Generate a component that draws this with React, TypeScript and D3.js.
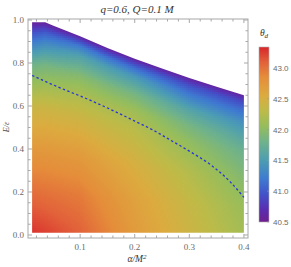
import React from "react";
import * as d3 from "d3";

const W = 291;
const H = 267;

// axes ticks
const xMajor = [0.1, 0.2, 0.3, 0.4];
const xMinor = [0.02, 0.04, 0.06, 0.08, 0.12, 0.14, 0.16, 0.18, 0.22, 0.24, 0.26, 0.28, 0.32, 0.34, 0.36, 0.38];
const yMajor = [0, 0.2, 0.4, 0.6, 0.8, 1.0];
const yMinor = [0.05, 0.1, 0.15, 0.25, 0.3, 0.35, 0.45, 0.5, 0.55, 0.65, 0.7, 0.75, 0.85, 0.9, 0.95];
const cbTicks = [40.5, 41.0, 41.5, 42.0, 42.5, 43.0];

// upper boundary of the allowed region
const boundaryAlpha = [0.012, 0.036, 0.05, 0.1, 0.15, 0.2, 0.25, 0.3, 0.35, 0.4];
const boundaryY = [0.99, 0.99, 0.975, 0.925, 0.87, 0.82, 0.775, 0.73, 0.69, 0.65];
const yBottom = 0.01;

// theta_d grid: columns at alpha, rows at fraction t = y / ymax(alpha)
const gridAlpha = [0.012, 0.1, 0.2, 0.3, 0.4];
const gridT = [0, 0.2, 0.4, 0.6, 0.7, 0.8, 0.9, 0.95, 1.0];
const thetaA1 = [43.3, 43.02, 42.74, 42.4, 42.1, 41.8, 41.25, 40.95, 40.55];
const thetaA2 = [43.1, 42.95, 42.72, 42.4, 42.2, 41.95, 41.55, 41.2, 40.6];
const thetaA3 = [42.72, 42.65, 42.5, 42.28, 42.12, 41.85, 41.45, 41.1, 40.6];
const thetaA4 = [42.42, 42.36, 42.24, 42.02, 41.85, 41.58, 41.18, 40.95, 40.6];
const thetaA5 = [42.15, 42.08, 41.95, 41.77, 41.6, 41.4, 41.1, 40.9, 40.6];

// dashed curve
const dashAlpha = [0.012, 0.06, 0.11, 0.155, 0.2, 0.235, 0.265, 0.3, 0.34, 0.375, 0.4];
const dashY = [0.742, 0.688, 0.636, 0.585, 0.53, 0.486, 0.442, 0.39, 0.325, 0.247, 0.175];

// colour map (Rainbow-like)
const cmapValues = [40.5, 40.7, 40.95, 41.2, 41.5, 41.8, 42.05, 42.3, 42.55, 42.85, 43.1, 43.34];
const cmapColors = ["#6e1f8e", "#5a2db0", "#4252c8", "#3e7ad0", "#4c9db2", "#6fb28a", "#95bd5c", "#bdbb48", "#dcab3f", "#e58d3a", "#e2603a", "#d8262a"];

const FONT = "'Liberation Serif', 'DejaVu Serif', serif";

export default function App() {
  const x = d3.scaleLinear().domain([0.0045, 0.4075]).range([28, 248]);
  const y = d3.scaleLinear().domain([-0.014, 1.0047]).range([238, 19]);
  const color = d3.scaleLinear<string>().domain(cmapValues).range(cmapColors).interpolate(d3.interpolateRgb).clamp(true);
  const ymax = d3.scaleLinear().domain(boundaryAlpha).range(boundaryY).clamp(true);
  const cols = [thetaA1, thetaA2, thetaA3, thetaA4, thetaA5];
  const colScales = cols.map((c) => d3.scaleLinear().domain(gridT).range(c).clamp(true));

  const theta = (a: number, yy: number) => {
    const t = Math.max(0, Math.min(1, yy / ymax(a)));
    const vals = colScales.map((s) => s(t));
    return d3.scaleLinear().domain(gridAlpha).range(vals).clamp(true)(a);
  };

  // cells
  const step = 2;
  const x0 = Math.floor(x(0.012));
  const x1 = x(0.4);
  const yTopPx = Math.floor(y(0.99));
  const yBotPx = y(yBottom);
  const cells: JSX.Element[] = [];
  for (let px = x0; px < x1; px += step) {
    for (let py = yTopPx; py < yBotPx; py += step) {
      const a = x.invert(px + step / 2);
      const yy = y.invert(py + step / 2);
      if (yy > ymax(a) + 0.02) continue;
      cells.push(
        <rect key={px + "_" + py} x={px} y={py} width={step} height={step} fill={color(theta(a, yy))} />
      );
    }
  }

  // clip region
  const area = d3
    .area<number>()
    .x((d, i) => x(boundaryAlpha[i]))
    .y0(() => y(yBottom))
    .y1((d) => y(d));
  const clipD = area(boundaryY) || "";

  const dashLine = d3
    .line<number>()
    .x((d, i) => x(dashAlpha[i]))
    .y((d) => y(d))
    .curve(d3.curveMonotoneX);

  // colour bar
  const cbX = 259;
  const cbW = 10;
  const cbS = d3.scaleLinear().domain([40.5, 43.34]).range([222, 47]);
  const gradStops = cmapValues.map((v) => ({ off: (v - 40.5) / (43.34 - 40.5), c: color(v) }));

  const frameColor = "#a8a8a8";
  const tickText = "#6a6a6a";

  return (
    <svg width={W} height={H} style={{ position: "absolute", left: 0, top: 0, background: "#fff" }}>
      <defs>
        <clipPath id="region">
          <path d={clipD} />
        </clipPath>
        <linearGradient id="cbgrad" x1="0" y1="1" x2="0" y2="0">
          {gradStops.map((s, i) => (
            <stop key={i} offset={Math.max(0, Math.min(1, s.off))} stopColor={s.c} />
          ))}
        </linearGradient>
      </defs>

      <g clipPath="url(#region)" shapeRendering="crispEdges">{cells}</g>

      <path d={dashLine(dashY) || ""} fill="none" stroke="#2a35d8" strokeWidth={1.3} strokeDasharray="2.4,2.4" />

      {/* frame */}
      <rect x={28} y={19} width={220} height={219} fill="none" stroke={frameColor} strokeWidth={1} />

      {/* x ticks */}
      {xMajor.map((v) => (
        <g key={"xm" + v}>
          <line x1={x(v)} x2={x(v)} y1={238} y2={234} stroke={frameColor} />
          <line x1={x(v)} x2={x(v)} y1={19} y2={23} stroke={frameColor} />
          <text x={x(v)} y={250} fontSize={9} fill={tickText} textAnchor="middle" fontFamily={FONT}>
            {v.toFixed(1)}
          </text>
        </g>
      ))}
      {xMinor.map((v) => (
        <g key={"xn" + v}>
          <line x1={x(v)} x2={x(v)} y1={238} y2={235.5} stroke={frameColor} />
          <line x1={x(v)} x2={x(v)} y1={19} y2={21.5} stroke={frameColor} />
        </g>
      ))}
      {/* y ticks */}
      {yMajor.map((v) => (
        <g key={"ym" + v}>
          <line x1={28} x2={32} y1={y(v)} y2={y(v)} stroke={frameColor} />
          <line x1={248} x2={244} y1={y(v)} y2={y(v)} stroke={frameColor} />
          <text x={24} y={y(v) + 3} fontSize={9} fill={tickText} textAnchor="end" fontFamily={FONT}>
            {v.toFixed(1)}
          </text>
        </g>
      ))}
      {yMinor.map((v) => (
        <g key={"yn" + v}>
          <line x1={28} x2={30.5} y1={y(v)} y2={y(v)} stroke={frameColor} />
          <line x1={248} x2={245.5} y1={y(v)} y2={y(v)} stroke={frameColor} />
        </g>
      ))}

      {/* labels */}
      <text x={137} y={13} fontSize={11} fill="#333" textAnchor="middle" fontFamily={FONT} fontStyle="italic">
        q=0.6, Q=0.1 M
      </text>
      <text x={137} y={262} fontSize={9.5} fill="#333" textAnchor="middle" fontFamily={FONT} fontStyle="italic">
        α/M<tspan fontSize={7} dy={-3.5}>2</tspan>
      </text>
      <text x={0} y={0} fontSize={8} fill="#444" textAnchor="middle" fontFamily={FONT} fontStyle="italic" transform="translate(9,127) rotate(-90)">
        E/ε
      </text>

      {/* colour bar */}
      <text x={264} y={36} fontSize={9.5} fill="#333" textAnchor="middle" fontFamily={FONT} fontStyle="italic">
        θ<tspan fontSize={7} dy={2}>d</tspan>
      </text>
      <rect x={cbX} y={47} width={cbW} height={175} fill="url(#cbgrad)" stroke="#b0b0b0" strokeWidth={0.6} />
      {cbTicks.map((v) => (
        <g key={"cb" + v}>
          <line x1={cbX + cbW} x2={cbX + cbW - 2} y1={cbS(v)} y2={cbS(v)} stroke="#999" strokeWidth={0.6} />
          <text x={273} y={cbS(v) + 3} fontSize={8} fill={tickText} fontFamily="'Liberation Sans', Arial, sans-serif">
            {v.toFixed(1)}
          </text>
        </g>
      ))}
    </svg>
  );
}
